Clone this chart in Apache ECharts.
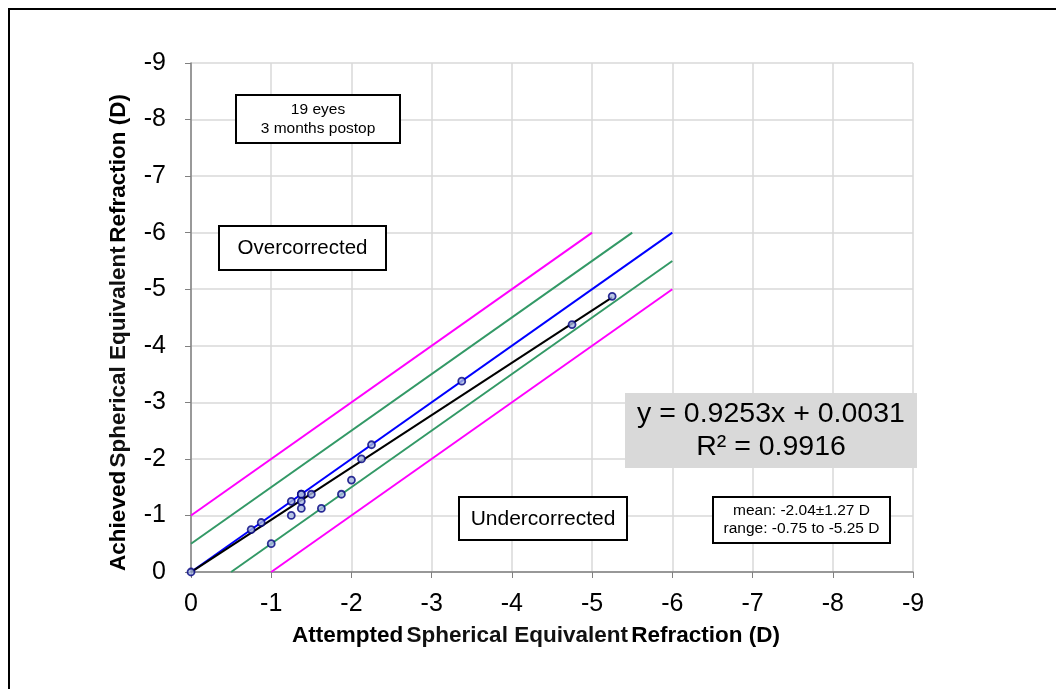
<!DOCTYPE html>
<html><head><meta charset="utf-8">
<script src="https://cdn.jsdelivr.net/npm/echarts@6/dist/echarts.min.js"></script>
<style>html,body{margin:0;padding:0;background:#fff}#c{width:1056px;height:689px}</style>
</head><body><div id="c"></div>
<script>
var attempted = [0, -0.75, -0.875, -1, -1.25, -1.25, -1.375, -1.375, -1.375, -1.375, -1.5, -1.625, -1.875, -2, -2.125, -2.25, -3.375, -4.75, -5.25];
var achieved  = [0, -0.75, -0.875, -0.5, -1.25, -1, -1.375, -1.375, -1.25, -1.125, -1.375, -1.125, -1.375, -1.625, -2, -2.25, -3.375, -4.375, -4.875];
var idealLine = [[0, 0], [-6, -6]];
var plus05 = [[0, -0.5], [-5.5, -6]];
var minus05 = [[-0.5, 0], [-6, -5.5]];
var plus1 = [[0, -1], [-5, -6]];
var minus1 = [[-1, 0], [-6, -5]];
var slope = 0.9253, intercept = 0.0031;
var fitX = [0, -5.25];
var fitLine = fitX.map(function (x) { return [x, slope * x + intercept]; });

var points = attempted.map(function (x, i) { return [x, achieved[i]]; });
var font = '"Liberation Sans", Arial, sans-serif';
function lineSeries(data, color) {
  return { type: 'line', data: data, showSymbol: false, symbol: 'none', lineStyle: { color: color, width: 2 }, z: 2, animation: false };
}
var chart = echarts.init(document.getElementById('c'));
var titleRich = { b: { fontSize: 22.5, fontWeight: 'bold', fontFamily: font, color: '#000' }, n: { fontSize: 22.5, fontWeight: 'bold', fontFamily: font, color: '#111' } };
var axisCommon = {
  type: 'value', min: -9, max: 0, interval: 1, inverse: true,
  axisLine: { show: true, onZero: false, lineStyle: { color: '#808080', width: 1.5 } },
  axisTick: { show: true, length: 6, lineStyle: { color: '#808080' } },
  splitLine: { show: true, lineStyle: { color: '#d9d9d9', width: 1.5 } },
  axisLabel: { color: '#000', fontSize: 25, fontFamily: font, formatter: function (v) { return String(v); } }
};
chart.setOption({
  animation: false,
  grid: { left: 191, right: 143, top: 63, bottom: 117, containLabel: false },
  xAxis: Object.assign({}, axisCommon, {
    axisLabel: Object.assign({}, axisCommon.axisLabel, { margin: 20 }),
    name: '{b|Attempted} {n|Spherical Equivalent} {b|Refraction (D)}',
    nameLocation: 'middle', nameGap: 52,
    nameTextStyle: { rich: titleRich, padding: [0, 32, 0, 0] }
  }),
  yAxis: Object.assign({}, axisCommon, {
    axisLabel: Object.assign({}, axisCommon.axisLabel, { margin: 25 }),
    name: '{b|Achieved} {n|Spherical Equivalent} {b|Refraction (D)}',
    nameLocation: 'middle', nameGap: 61, nameRotate: 90,
    nameTextStyle: { rich: titleRich, padding: [0, 30, 0, 0] }
  }),
  series: [
    lineSeries(plus1, '#ff00ff'),
    lineSeries(minus1, '#ff00ff'),
    lineSeries(plus05, '#339966'),
    lineSeries(minus05, '#339966'),
    lineSeries(idealLine, '#0000ff'),
    lineSeries(fitLine, '#000000'),
    { type: 'scatter', data: points, symbol: 'circle', symbolSize: 7,
      itemStyle: { color: '#a8b8e0', borderColor: '#000080', borderWidth: 1.8 }, z: 5 }
  ],
  graphic: [
    { type: 'rect', shape: { x: 9, y: 9, width: 1100, height: 720 }, style: { fill: 'none', stroke: '#000', lineWidth: 2 }, silent: true },
    { type: 'rect', shape: { x: 236, y: 95, width: 164, height: 48 }, style: { fill: '#fff', stroke: '#000', lineWidth: 2 }, z: 10 },
    { type: 'text', x: 318, y: 119, style: { text: '19 eyes\n3 months postop', align: 'center', verticalAlign: 'middle', fontSize: 15.5, lineHeight: 19, fontFamily: font, fill: '#000' }, z: 11 },
    { type: 'rect', shape: { x: 219, y: 226, width: 167, height: 44 }, style: { fill: '#fff', stroke: '#000', lineWidth: 2 }, z: 10 },
    { type: 'text', x: 302.5, y: 248, style: { text: 'Overcorrected', align: 'center', verticalAlign: 'middle', fontSize: 20.5, fontFamily: font, fill: '#000' }, z: 11 },
    { type: 'rect', shape: { x: 459, y: 497, width: 168, height: 43 }, style: { fill: '#fff', stroke: '#000', lineWidth: 2 }, z: 10 },
    { type: 'text', x: 543, y: 519, style: { text: 'Undercorrected', align: 'center', verticalAlign: 'middle', fontSize: 21, fontFamily: font, fill: '#000' }, z: 11 },
    { type: 'rect', shape: { x: 625, y: 393, width: 292, height: 75 }, style: { fill: '#d9d9d9', stroke: 'none' }, z: 10 },
    { type: 'text', x: 771, y: 431, style: { text: 'y = 0.9253x + 0.0031\nR² = 0.9916', align: 'center', verticalAlign: 'middle', fontSize: 28.5, lineHeight: 33, fontFamily: font, fill: '#000' }, z: 11 },
    { type: 'rect', shape: { x: 713, y: 497, width: 177, height: 46 }, style: { fill: '#fff', stroke: '#000', lineWidth: 2 }, z: 10 },
    { type: 'text', x: 801.5, y: 520, style: { text: 'mean: -2.04±1.27 D\nrange: -0.75 to -5.25 D', align: 'center', verticalAlign: 'middle', fontSize: 15.5, lineHeight: 18, fontFamily: font, fill: '#000' }, z: 11 }
  ]
});
</script></body></html>
